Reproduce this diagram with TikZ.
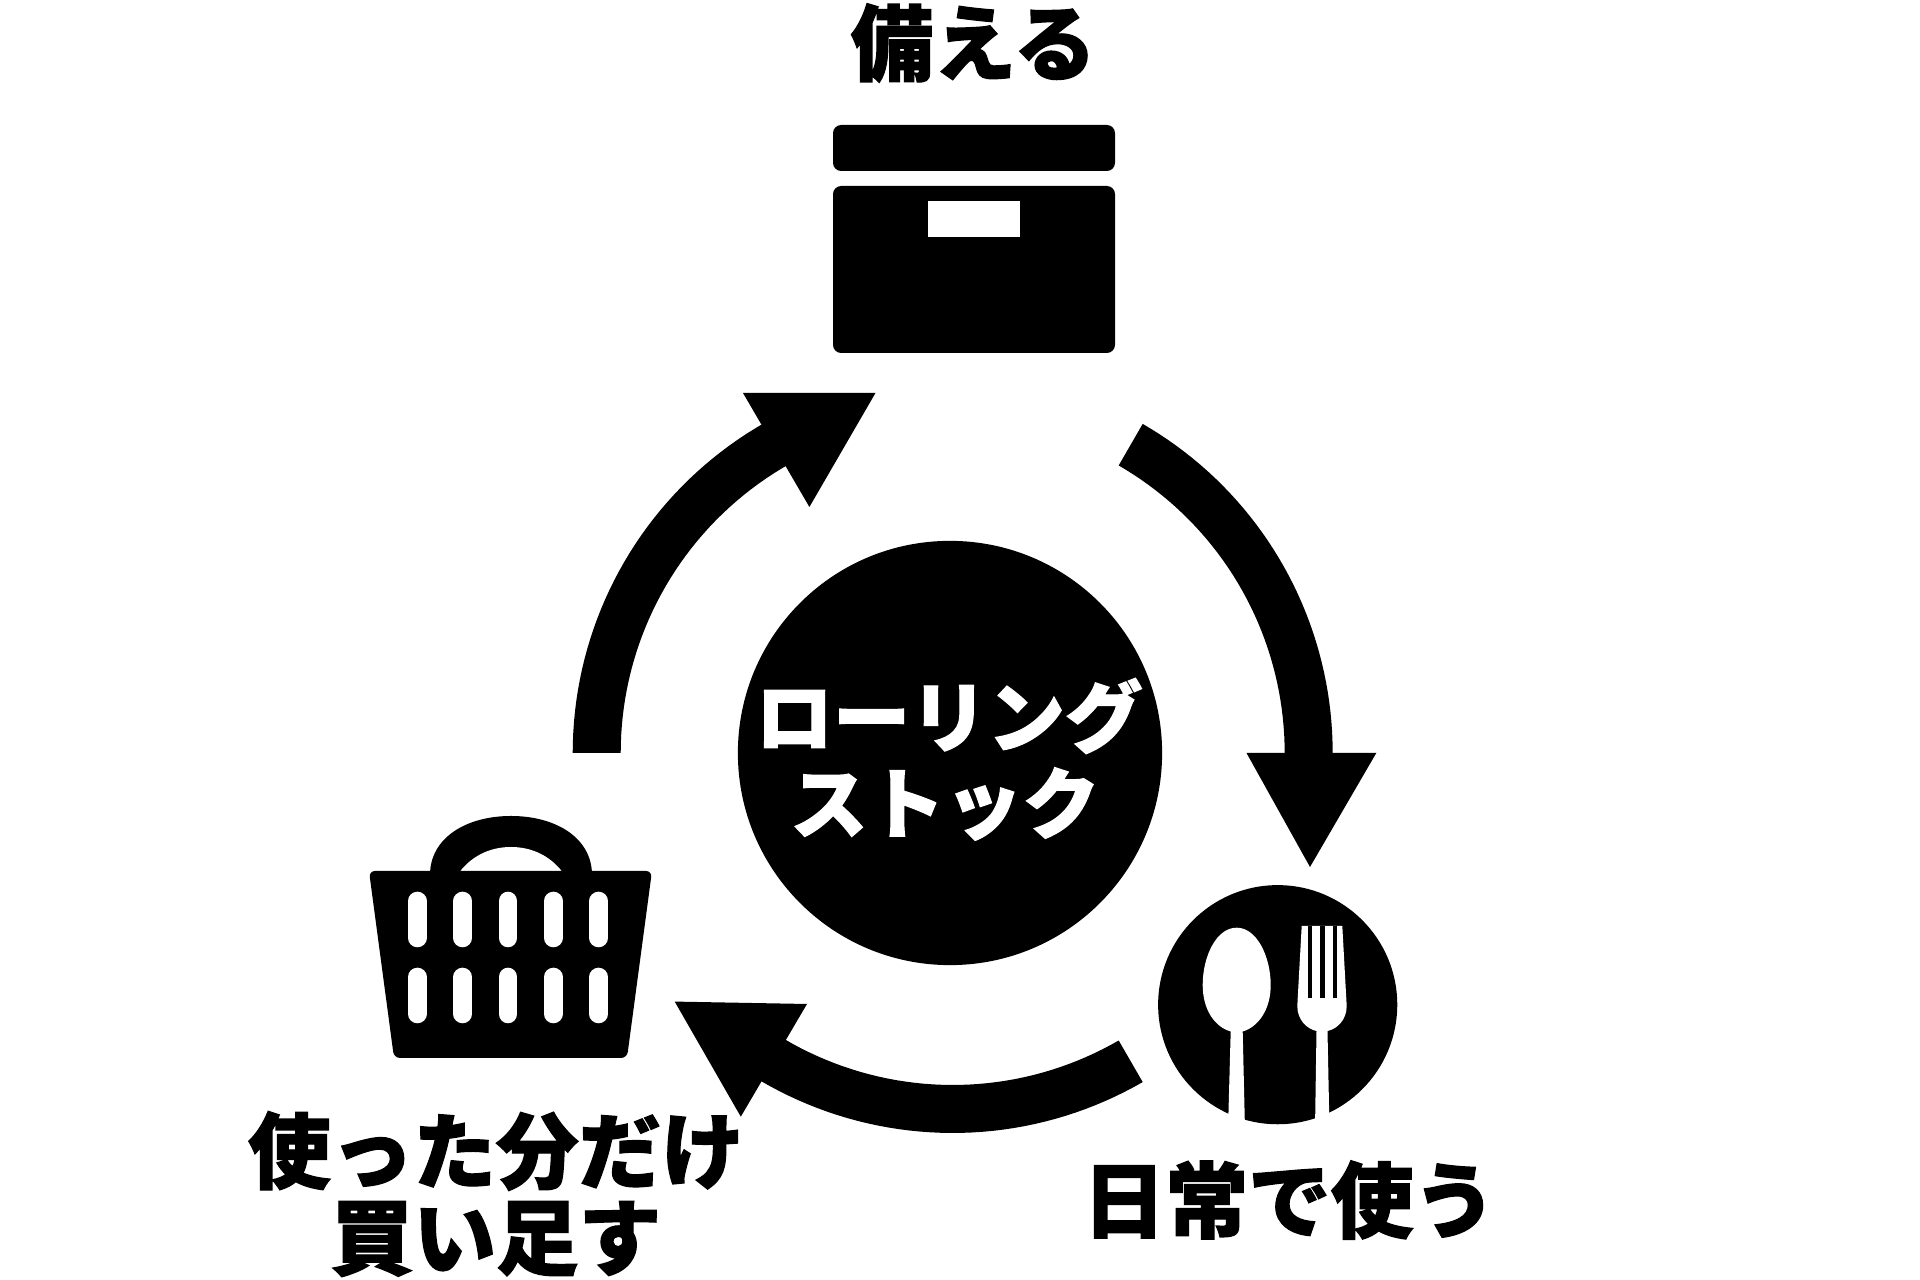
\documentclass[tikz,border=0pt]{standalone}
\usepackage{fontspec}
\newfontfamily\jpfont[FakeBold=1.5]{Noto Sans CJK JP Black}
\tikzset{
  ink/.style={fill=black,draw=none},
  paper/.style={fill=white,draw=none},
  captiontext/.style={font=\jpfont\fontsize{23.5pt}{26pt}\selectfont,text=black,inner sep=0pt},
  hubtext/.style={font=\jpfont\fontsize{22pt}{26pt}\selectfont,text=white,inner sep=0pt},
  slot/.style={draw=white,line width=0.186cm,line cap=round},
}
\begin{document}
\begin{tikzpicture}[x=0.01cm,y=-0.01cm]
\useasboundingbox (0,0) rectangle (1920,1280);
\clip (0,0) rectangle (1920,1280);
\fill[white] (0,0) rectangle (1920,1280);
% hub
\node[ink,circle,minimum size=4.24cm,inner sep=0pt] (hub) at (950,753) {};
\node[hubtext] (hubone) at (949,716) {ローリング};
\node[hubtext] (hubtwo) at (945,804) {ストック};
% cycle arrows
\begin{scope}[shift={(952.7,753)}]
\fill[ink] plot[domain=-60:0,samples=40] (\x:380) -- plot[domain=0:-60,samples=40] (\x:332) -- cycle;
\fill[ink] plot[domain=60:122,samples=40] (\x:380) -- plot[domain=122:60,samples=40] (\x:332) -- cycle;
\fill[ink] plot[domain=180:242,samples=40] (\x:380) -- plot[domain=242:180,samples=40] (\x:332) -- cycle;
\end{scope}
\fill[ink] (1246.5,753) -- (1376.3,753) -- (1310,867) -- cycle;
\fill[ink] (743,393) -- (875.5,393) -- (809.4,507) -- cycle;
\fill[ink] (674.7,1001.6) -- (807,1004) -- (740.8,1116.7) -- cycle;
% box
\fill[ink,rounded corners=2.3pt] (833,125) rectangle (1115,171);
\fill[ink,rounded corners=2.3pt] (833,186) rectangle (1115,353);
\fill[paper] (928,201) rectangle (1020,237);
\node[captiontext] (prepare) at (973.5,43) {備える};
% plate
\node[ink,circle,minimum size=2.39cm,inner sep=0pt] (plate) at (1277.7,1004.7) {};
\fill[paper] (1236.7,927.7) .. controls (1216,927.7) and (1202.7,957) .. (1202.7,985)
  .. controls (1202.7,1010) and (1215,1027) .. (1230.7,1031.5) -- (1228,1130) -- (1245,1130) -- (1242.7,1031.5)
  .. controls (1258,1027) and (1270.7,1010) .. (1270.7,985)
  .. controls (1270.7,957) and (1257,927.7) .. (1236.7,927.7) -- cycle;
\fill[paper] (1301.7,926) -- (1342.3,926) -- (1346.7,1006)
  .. controls (1346.7,1020) and (1337,1029) .. (1327.5,1031) -- (1329.5,1130) -- (1315,1130) -- (1316.5,1031)
  .. controls (1307,1029) and (1297.3,1020) .. (1297.3,1006) -- cycle;
\fill[ink] (1307.7,926) rectangle (1312,997.7);
\fill[ink] (1320.3,926) rectangle (1324.7,997.7);
\fill[ink] (1332.7,926) rectangle (1337,997.7);
\node[captiontext] (daily) at (1289.5,1200) {日常で使う};
% basket
\fill[ink] (430,875) .. controls (430,838) and (466,816) .. (511,816) .. controls (556,816) and (592,838) .. (592,875) -- cycle;
\fill[paper] (460,871.5) .. controls (472,856) and (490,847) .. (511,847) .. controls (532,847) and (550,856) .. (562,871.5) -- cycle;
\fill[ink,rounded corners=1.7pt] (369,871) -- (652,871) -- (627,1058) -- (394,1058) -- cycle;
\foreach \sx in {417.3,462.7,508,553.3,598.7}{
  \draw[slot] (\sx,901) -- (\sx,938);
  \draw[slot] (\sx,977) -- (\sx,1014);
}
\node[captiontext] (usedone) at (496,1151) {使った分だけ};
\node[captiontext] (usedtwo) at (496,1239) {買い足す};
\end{tikzpicture}
\end{document}
